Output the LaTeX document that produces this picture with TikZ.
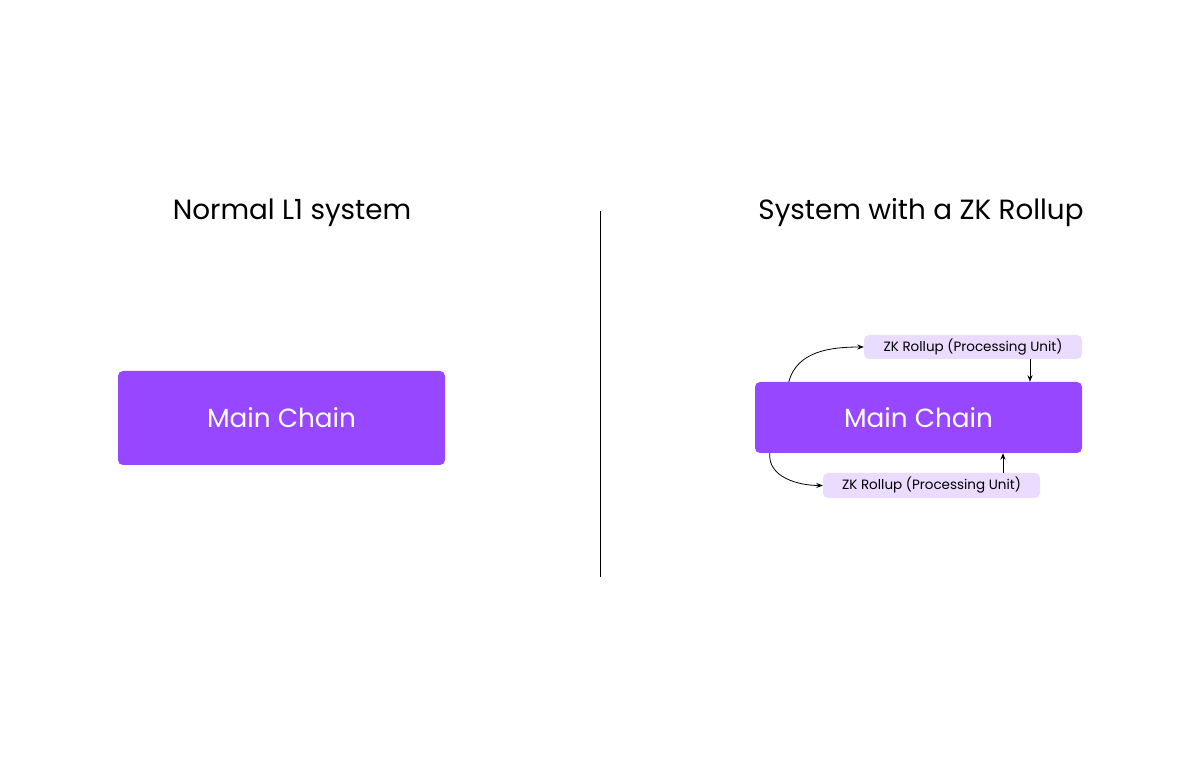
\documentclass[tikz,border=0pt]{standalone}
\usepackage{fontspec}
\setmainfont{Poppins}
\usetikzlibrary{arrows.meta}
\definecolor{mainpurple}{HTML}{9747FF}
\definecolor{lightpurple}{HTML}{E9DCFF}
\begin{document}
\begin{tikzpicture}[x=1pt,y=1pt,
  chain/.style={fill=mainpurple,draw=none,rounded corners=5pt,text=white,font=\fontsize{26.3}{30}\selectfont,inner sep=0pt},
  zkbox/.style={fill=lightpurple,draw=none,rounded corners=5pt,text=black,font=\fontsize{13.5}{16}\selectfont,inner sep=0pt,minimum height=24pt},
  title/.style={font=\fontsize{27.8}{32}\selectfont,text=black,inner sep=0pt},
  arr/.style={-{Stealth[length=6.5pt,width=5pt]},line width=0.8pt,black}]
\useasboundingbox (0,0) rectangle (1200,780);
\fill[white] (0,0) rectangle (1200,780);
% titles
\node[title] (t1) at (292,567) {Normal L1 system};
\node[title] (t2) at (921,567) {System with a ZK Rollup};
% divider
\coordinate (d1) at (600,569);
\coordinate (d2) at (600,203);
\draw[line width=0.8pt] (d1) -- (d2);
% left
\node[chain,minimum width=327pt,minimum height=94pt] (m1) at (281.5,362) {Main Chain};
% right
\node[chain,minimum width=327pt,minimum height=71pt] (m2) at (918.5,362.5) {Main Chain};
\node[zkbox,minimum width=218pt] (z1) at (973,433) {ZK Rollup (Processing Unit)};
\node[zkbox,minimum width=217pt,minimum height=25pt] (z2) at (931.5,294.5) {ZK Rollup (Processing Unit)};
% connectors
\draw[arr] ([xshift=34pt]m2.north west) to[out=75,in=180] (z1.west);
\draw[arr] ([xshift=15pt]m2.south west) to[out=-95,in=180] (z2.west);
\draw[arr] (z1.south -| 1030,0) -- (m2.north -| 1030,0);
\draw[arr] (z2.north -| 1003,0) -- (m2.south -| 1003,0);
\end{tikzpicture}
\end{document}
